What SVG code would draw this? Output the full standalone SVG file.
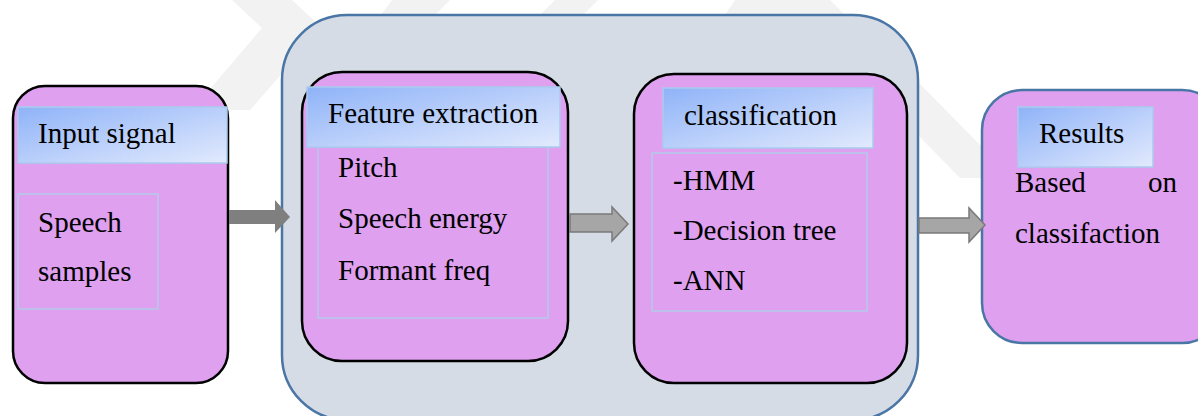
<svg xmlns="http://www.w3.org/2000/svg" width="1198" height="416" viewBox="0 0 1198 416">
<defs>
<linearGradient id="tb" x1="0" y1="0" x2="1" y2="1">
<stop offset="0" stop-color="#8fb3f8"/>
<stop offset="1" stop-color="#e2eafd"/>
</linearGradient>
<style>
.card{fill:#dea0ef;stroke:#000;stroke-width:2.5}
.cardb{fill:#dea0ef;stroke:#4a76a6;stroke-width:2.5}
.title{fill:url(#tb);stroke:#a9cbee;stroke-width:1.5}
.list{fill:none;stroke:#a8d4e6;stroke-width:1.2}
.t{font-family:"Liberation Serif","Times New Roman",serif;font-size:29px;fill:#000}
.wm{fill:#f2f2f2}
.a1{fill:#7f7f7f}
.a2{fill:#a6a6a6;stroke:#7a7a7a;stroke-width:1.5}
</style>
</defs>
<rect width="1198" height="416" fill="#fff"/>
<g id="watermark">
<polygon class="wm" points="232,0 292,0 322,28 250,110 192,110 262,28"/>
<polygon class="wm" points="392,0 450,0 420,30 370,30"/>
<polygon class="wm" points="918,82 985,150 985,178 960,178 918,135"/>
<polygon class="wm" points="555,0 598,0 583,15 540,15"/>
<polygon class="wm" points="735,0 830,0 845,15 725,15"/>
</g>
<g id="container">
<rect x="282" y="15" width="636" height="405" rx="65" ry="65" fill="#d5dce6" stroke="#4a76a6" stroke-width="2.5"/>
</g>
<g id="input">
<rect class="card" x="13" y="86" width="215" height="297" rx="32" ry="32"/>
<rect class="title" x="18" y="107" width="209" height="56"/>
<text class="t" x="38" y="143">Input signal</text>
<rect class="list" x="18" y="194" width="140" height="115"/>
<text class="t" x="38" y="232">Speech</text>
<text class="t" x="38" y="281">samples</text>
</g>
<g id="feature">
<rect class="card" x="302" y="72" width="266" height="289" rx="40" ry="40"/>
<rect class="list" x="318" y="147" width="230" height="171"/>
<rect class="title" x="307" y="87" width="253" height="60"/>
<text class="t" x="328" y="123">Feature extraction</text>
<text class="t" x="338" y="177">Pitch</text>
<text class="t" x="338" y="228">Speech energy</text>
<text class="t" x="338" y="280">Formant freq</text>
</g>
<g id="classification">
<rect class="card" x="634" y="74" width="273" height="309" rx="40" ry="40"/>
<rect class="title" x="663" y="88" width="210" height="60"/>
<text class="t" x="684" y="125">classification</text>
<rect class="list" x="652" y="153" width="215" height="158"/>
<text class="t" x="673" y="190">-HMM</text>
<text class="t" x="673" y="240">-Decision tree</text>
<text class="t" x="673" y="290">-ANN</text>
</g>
<g id="results">
<rect class="cardb" x="982" y="90" width="240" height="253" rx="40" ry="40"/>
<rect class="title" x="1018" y="107" width="135" height="60"/>
<text class="t" x="1039" y="143">Results</text>
<text class="t" x="1015" y="192">Based</text>
<text class="t" x="1177" y="192" text-anchor="end">on</text>
<text class="t" x="1015" y="243">classifaction</text>
</g>
<g id="connectors">
<polygon class="a1" points="229,210 275,210 275,200 290,217 275,233 275,224 229,224"/>
<polygon class="a2" points="570,214 612,214 612,207 628,224 612,241 612,232 570,232"/>
<polygon class="a2" points="919,218 969,218 969,208 985,225 969,242 969,233 919,233"/>
</g>
</svg>
